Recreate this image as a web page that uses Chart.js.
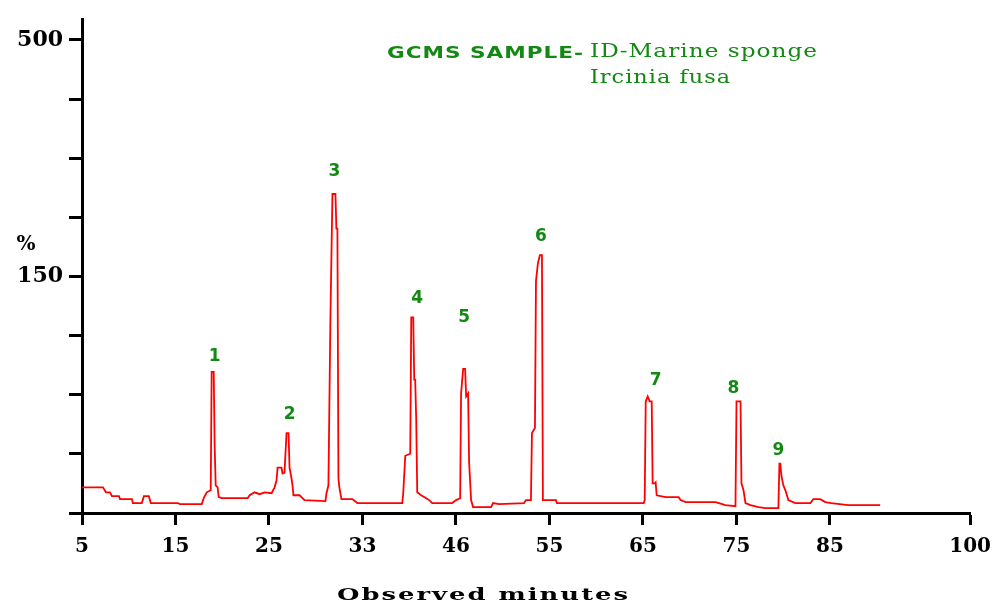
<!DOCTYPE html>
<html>
<head>
<meta charset="utf-8">
<script src="https://cdn.jsdelivr.net/npm/chart.js@4"></script>
<style>
  html, body { margin: 0; padding: 0; background: #fff; }
</style>
</head>
<body>
<canvas id="myChart" width="1001" height="605"></canvas>
<script>
// data: retention time (min) and detector signal (arbitrary units, 400 = top tick)
const minutes = [5.00, 7.24, 7.56, 7.99, 8.20, 8.95, 9.06, 10.34, 10.44, 11.40, 11.62, 12.15, 12.36, 15.25, 15.46, 17.81, 18.02, 18.34, 18.77, 18.87,
  19.09, 19.19, 19.30, 19.51, 19.62, 19.94, 22.72, 22.93, 23.46, 24.00, 24.53, 25.28, 25.60, 25.81, 25.92, 26.34, 26.45, 26.66, 26.88, 27.09,
  27.20, 27.41, 27.52, 27.62, 28.27, 28.80, 31.04, 31.15, 31.36, 31.57, 31.79, 32.11, 32.21, 32.32, 32.43, 32.53, 32.75, 33.92, 34.45, 39.26,
  39.36, 39.58, 40.11, 40.22, 40.43, 40.54, 40.64, 40.75, 40.86, 41.28, 41.82, 42.14, 42.46, 44.59, 45.02, 45.45, 45.55, 45.77, 45.98, 46.09,
  46.30, 46.41, 46.51, 46.62, 46.83, 48.76, 48.97, 49.61, 52.28, 52.49, 53.02, 53.13, 53.45, 53.56, 53.77, 53.98, 54.20, 54.30, 55.69, 55.80,
  65.08, 65.19, 65.30, 65.51, 65.72, 65.94, 66.04, 66.26, 66.36, 66.47, 67.43, 68.82, 69.03, 69.57, 72.77, 73.83, 74.90, 75.01, 75.44, 75.54,
  75.76, 75.97, 76.50, 77.36, 78.10, 79.49, 79.60, 79.70, 79.81, 80.02, 80.24, 80.56, 81.30, 82.91, 83.23, 83.97, 84.51, 85.15, 86.96, 90.38];
const signal = [21.7, 21.7, 17.5, 17.5, 14.2, 14.2, 11.7, 11.7, 8.4, 8.4, 14.2, 14.2, 8.4, 8.4, 7.5, 7.5, 12.5, 17.5, 19.2, 119.4,
  119.4, 56.8, 23.4, 21.7, 13.4, 12.5, 12.5, 15.0, 17.5, 15.9, 17.5, 16.7, 21.7, 27.6, 38.4, 38.4, 33.4, 34.2, 67.6, 67.6,
  38.4, 29.2, 23.4, 15.0, 15.0, 10.9, 10.0, 16.7, 23.4, 163.7, 269.7, 269.7, 240.5, 240.5, 29.2, 21.7, 11.7, 11.7, 8.4, 8.4,
  16.7, 48.4, 50.1, 165.3, 165.3, 112.7, 112.7, 79.3, 17.5, 15.0, 12.5, 10.9, 8.4, 8.4, 10.9, 12.5, 101.0, 121.9, 121.9, 98.5,
  101.0, 42.6, 27.6, 10.9, 5.0, 5.0, 8.4, 7.5, 8.4, 10.9, 10.9, 67.6, 71.8, 196.2, 211.3, 218.0, 218.0, 10.9, 10.9, 8.4,
  8.4, 10.9, 94.4, 98.5, 94.4, 94.4, 25.1, 25.1, 25.9, 15.0, 13.4, 13.4, 10.9, 9.2, 9.2, 6.7, 5.8, 94.4, 94.4, 25.1,
  19.2, 8.4, 6.7, 5.0, 4.2, 4.2, 41.8, 41.8, 31.7, 23.4, 19.2, 10.9, 8.4, 8.4, 11.7, 11.7, 9.2, 8.4, 6.7, 6.7];

// peak numbers and where they sit
const peakNumbers = ["1", "2", "3", "4", "5", "6", "7", "8", "9"];
const peakLabelX = [19.19, 27.20, 32.00, 40.86, 45.87, 54.09, 66.36, 74.69, 79.49];
const peakLabelY = [131.9, 83.5, 288.9, 181.2, 165.3, 233.8, 111.9, 105.2, 52.6];

// axis ticks
const xTickValues = [5, 15, 25, 35, 45, 55, 65, 75, 85, 100];
const xTickLabels = ["5", "15", "25", "33", "46", "55", "65", "75", "85", "100"];
const yTickValues = [0, 50, 100, 150, 200, 250, 300, 350, 400];
const yTickLabels = ["", "", "", "", "150", "", "", "", "500"];

const green = "#138813";

// draw text stretched sideways so it spans `width`, with a small gap between letters
function fillFit(ctx, text, left, baseline, width, gap) {
  const chars = [...text];
  const natural = chars.reduce((s, c) => s + ctx.measureText(c).width, 0);
  const sx = (width - gap * (chars.length - 1)) / natural;
  ctx.save();
  ctx.translate(left, baseline);
  ctx.scale(sx, 1);
  ctx.textAlign = "left";
  let cx = 0;
  chars.forEach(c => {
    ctx.fillText(c, cx, 0);
    cx += ctx.measureText(c).width + gap / sx;
  });
  ctx.restore();
}

const annotate = {
  id: "annotate",
  afterDraw(chart) {
    const { ctx, scales: { x, y } } = chart;
    ctx.save();
    // peak numbers
    ctx.fillStyle = green;
    ctx.font = 'bold 17px "DejaVu Sans"';
    ctx.textAlign = "center";
    ctx.textBaseline = "middle";
    peakNumbers.forEach((n, i) => {
      ctx.fillText(n, x.getPixelForValue(peakLabelX[i]), y.getPixelForValue(peakLabelY[i]));
    });
    // title
    ctx.textBaseline = "alphabetic";
    ctx.font = 'bold 16px "DejaVu Sans"';
    fillFit(ctx, "GCMS SAMPLE-", 387, 58, 196, 1);
    ctx.font = '19px "DejaVu Serif"';
    fillFit(ctx, "ID-Marine sponge", 590, 57, 227, 1);
    fillFit(ctx, "Ircinia fusa", 590, 83, 140, 1);
    // axis captions
    ctx.fillStyle = "#000";
    ctx.font = 'bold 20px "DejaVu Serif"';
    ctx.textAlign = "center";
    ctx.fillText("%", 26, 250);
    ctx.font = 'bold 17px "DejaVu Serif"';
    fillFit(ctx, "Observed minutes", 337, 600, 291, 2);
    ctx.restore();
  }
};

const config = {
  type: "line",
  data: {
    datasets: [{
      data: minutes.map((m, i) => ({ x: m, y: signal[i] })),
      borderColor: "#ff0000",
      borderWidth: 1.8,
      pointRadius: 0,
      tension: 0,
      fill: false
    }]
  },
  options: {
    responsive: false,
    animation: false,
    layout: { padding: { left: 0, right: 29, top: 13, bottom: 0 } },
    plugins: {
      legend: { display: false },
      tooltip: { enabled: false }
    },
    scales: {
      x: {
        type: "linear",
        min: 5,
        max: 100,
        afterBuildTicks: scale => { scale.ticks = xTickValues.map(v => ({ value: v })); },
        afterFit: scale => { scale.height = 92; },
        ticks: {
          callback: (value, index) => xTickLabels[index],
          color: "#000",
          font: { family: "DejaVu Serif", weight: "bold", size: 20 },
          padding: 10,
          maxRotation: 0,
          autoSkip: false
        },
        grid: { drawOnChartArea: false, drawTicks: true, tickLength: 12, tickWidth: 3, tickColor: "#000" },
        border: { display: true, color: "#000", width: 3 }
      },
      y: {
        type: "linear",
        min: 0,
        max: 417.5,
        afterBuildTicks: scale => { scale.ticks = yTickValues.map(v => ({ value: v })); },
        afterFit: scale => { scale.width = 82; },
        ticks: {
          callback: (value, index) => yTickLabels[index],
          color: "#000",
          font: { family: "DejaVu Serif", weight: "bold", size: 22 },
          padding: 6,
          autoSkip: false
        },
        grid: { drawOnChartArea: false, drawTicks: true, tickLength: 13, tickWidth: 3, tickColor: "#000" },
        border: { display: true, color: "#000", width: 3 }
      }
    }
  },
  plugins: [annotate]
};

const myChart = new Chart(document.getElementById("myChart"), config);
</script>
</body>
</html>
